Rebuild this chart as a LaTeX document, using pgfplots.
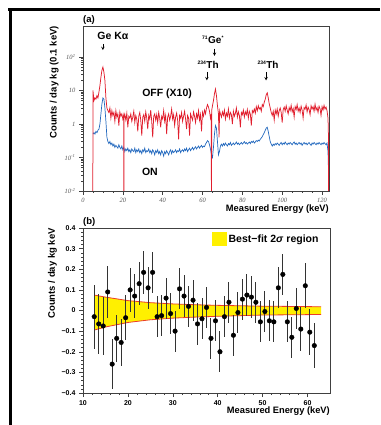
\documentclass[border=0pt]{standalone}
\usepackage{pgfplots}
\pgfplotsset{compat=1.18}
\usepackage{fontspec}
\setmainfont{Liberation Sans}
\newfontfamily\serif{Liberation Serif}
\definecolor{offred}{RGB}{225,30,45}
\definecolor{onblue}{RGB}{35,105,190}
\definecolor{bandyellow}{RGB}{255,240,0}
\definecolor{bandred}{RGB}{235,60,40}

\begin{document}
\begin{tikzpicture}
\path[use as bounding box] (0pt,0pt) rectangle (380pt,425pt);
\draw[line width=3pt] (8pt,415pt) -- (380pt,415pt);
\draw[line width=3pt] (10pt,416.5pt) -- (10pt,0pt);

%================ panel (a)
\begin{axis}[
  at={(83pt,234pt)}, anchor=south west, scale only axis,
  width=246pt, height=165pt,
  ymode=log, xmin=0, xmax=123.5, ymin=0.01, ymax=840,
  axis line style={black!75, line width=0.6pt},
  tick pos=left, tick align=outside,
  major tick length=4pt, minor tick length=2pt,
  tick style={black!75, line width=0.5pt},
  xtick={0,20,...,120}, minor x tick num=3,
  xticklabels={0,20,40,60,80,100,120},
  ytick={0.01,0.1,1,10,100},
  yticklabels={10\textsuperscript{-2},10\textsuperscript{-1},1,10,10\textsuperscript{2}},
  ticklabel style={font=\serif\itshape\fontsize{6.5}{6.5}\selectfont, text=black!65},
  ylabel={Counts / day kg (0.1 keV)},
  ylabel style={font=\bfseries\fontsize{9.5}{10}\selectfont, at={(rel axis cs:-0.098,1)}, anchor=south east, inner sep=0pt},
  xlabel={Measured Energy (keV)},
  xlabel style={font=\bfseries\fontsize{9.3}{10}\selectfont, at={(rel axis cs:1,-0.08)}, anchor=north east, inner sep=0pt},
  clip=true,
]
\addplot[onblue, line width=0.7pt] coordinates {
(5,0.5)(5.5,0.55)(6,0.5)(6.5,0.6)(7,0.55)(7.5,0.65)(8,0.7)(8.5,1)(9,2)(9.5,4)(10,6)(10.5,5.5)(11,3)(11.5,1.2)(12,0.4)(12.5,0.3)(13,0.26)(13.5,0.3)(14,0.24)(14.5,0.27)
(15,0.22)(15.5,0.25)(16,0.2)(16.5,0.23)(17,0.21)(17.5,0.19)(18,0.24)(18.5,0.2)(19,0.18)(19.5,0.22)(20,0.17)(20.5,0.2)(21,0.15)(21.5,0.18)(22,0.16)(22.5,0.19)(23,0.15)(23.5,0.17)(24,0.14)(24.5,0.18)
(25,0.16)(25.5,0.15)(26,0.19)(26.5,0.14)(27,0.17)(27.5,0.15)(28,0.18)(28.5,0.14)(29,0.16)(29.5,0.13)(30,0.17)(30.5,0.15)(31,0.19)(31.5,0.14)(32,0.16)(32.5,0.15)(33,0.18)(33.5,0.14)(34,0.16)(34.5,0.13)
(35,0.17)(35.5,0.15)(36,0.12)(36.5,0.16)(37,0.14)(37.5,0.17)(38,0.13)(38.5,0.15)(39,0.12)(39.5,0.16)(40,0.14)(40.5,0.11)(41,0.15)(41.5,0.13)(42,0.16)(42.5,0.14)(43,0.12)(43.5,0.15)(44,0.17)(44.5,0.13)
(45,0.16)(45.5,0.14)(46,0.15)(46.5,0.17)(47,0.14)(47.5,0.16)(48,0.15)(48.5,0.18)(49,0.14)(49.5,0.16)(50,0.17)(50.5,0.15)(51,0.18)(51.5,0.16)(52,0.19)(52.5,0.15)(53,0.17)(53.5,0.19)(54,0.16)(54.5,0.18)
(55,0.2)(55.5,0.17)(56,0.19)(56.5,0.21)(57,0.18)(57.5,0.2)(58,0.22)(58.5,0.19)(59,0.21)(59.5,0.23)(60,0.2)(60.5,0.22)(61,0.21)(61.5,0.25)(62,0.28)(62.5,0.32)(63,0.3)(63.5,0.24)(64,0.18)(64.5,0.12)
(65,0.1)(65.5,0.2)(66,0.5)(66.5,0.9)(67,0.75)(67.5,0.3)(68,0.12)(68.5,0.15)(69,0.22)(69.5,0.25)(70,0.22)(70.5,0.26)(71,0.23)(71.5,0.27)(72,0.24)(72.5,0.22)(73,0.26)(73.5,0.24)(74,0.28)(74.5,0.23)
(75,0.25)(75.5,0.27)(76,0.24)(76.5,0.26)(77,0.29)(77.5,0.25)(78,0.27)(78.5,0.24)(79,0.26)(79.5,0.28)(80,0.25)(80.5,0.27)(81,0.3)(81.5,0.26)(82,0.28)(82.5,0.25)(83,0.27)(83.5,0.29)(84,0.26)(84.5,0.3)
(85,0.28)(85.5,0.31)(86,0.27)(86.5,0.29)(87,0.32)(87.5,0.3)(88,0.33)(88.5,0.31)(89,0.35)(89.5,0.38)(90,0.42)(90.5,0.48)(91,0.55)(91.5,0.65)(92,0.75)(92.5,0.8)(93,0.6)(93.5,0.42)(94,0.3)(94.5,0.25)
(95,0.22)(95.5,0.25)(96,0.23)(96.5,0.26)(97,0.24)(97.5,0.27)(98,0.25)(98.5,0.23)(99,0.26)(99.5,0.28)(100,0.24)(100.5,0.27)(101,0.25)(101.5,0.29)(102,0.26)(102.5,0.24)(103,0.27)(103.5,0.25)(104,0.28)(104.5,0.26)
(105,0.24)(105.5,0.27)(106,0.29)(106.5,0.25)(107,0.27)(107.5,0.24)(108,0.26)(108.5,0.28)(109,0.25)(109.5,0.27)(110,0.23)(110.5,0.26)(111,0.28)(111.5,0.25)(112,0.27)(112.5,0.24)(113,0.26)(113.5,0.28)(114,0.25)(114.5,0.23)
(115,0.27)(115.5,0.25)(116,0.28)(116.5,0.26)(117,0.24)(117.5,0.27)(118,0.25)(118.5,0.28)(119,0.26)(119.5,0.24)(120,0.27)(120.5,0.25)(121,0.28)(121.5,0.26)(122,0.24)(122.5,0.27)(123,0.15)(123.2,0.05)(123.3,0.0001)
};
\addplot[offred, line width=0.75pt] coordinates {
(4.9,0.0001)(5,10)(5.5,5)(6,6)(6.5,5.5)(7,7)(7.5,6)(8,9)(8.5,14)(9,25)(9.5,40)(10,50)(10.5,35)(11,20)(11.5,6)(12,3)(12.5,2.5)(13,2.2)(13.5,3)(14,1.5)(14.5,2.5)
(15,1.8)(15.5,2.2)(16,1.2)(16.5,2.5)(17,1.6)(17.5,2)(18,0.9)(18.5,2.3)(19,1.7)(19.5,2)(20,1.4)(20.4,1.8)(20.5,0.0001)(20.6,1.5)(21,1.9)(21.5,1.3)(22,2.1)(22.5,0.8)(23,1.7)(23.5,1.5)(24,2)(24.5,1.2)
(25,1.6)(25.5,2.4)(26,1.1)(26.5,1.8)(27,1.4)(27.5,0.6)(28,1.7)(28.5,2.2)(29,1.3)(29.5,0.45)(30,1.6)(30.5,1.9)(31,1.2)(31.5,2.3)(32,1.5)(32.5,0.7)(33,1.8)(33.5,1.4)(34,2.6)(34.5,1.2)
(35,0.4)(35.5,1.7)(36,2)(36.5,1.3)(37,1.9)(37.5,1.1)(38,2.2)(38.5,1.5)(39,0.8)(39.5,1.7)(40,1.4)(40.5,2.5)(41,1.2)(41.5,1.8)(42,0.5)(42.5,1.6)(43,2)(43.5,1.3)(44,1.7)(44.5,2.8)
(45,1.4)(45.5,1.9)(46,0.9)(46.5,1.6)(47,2.1)(47.5,1.3)(48,0.35)(48.5,1.8)(49,1.5)(49.5,2.2)(50,1.2)(50.5,1.7)(51,2.4)(51.5,1.4)(52,0.7)(52.5,1.8)(53,1.5)(53.5,0.45)(54,2)(54.5,1.6)
(55,1.3)(55.5,2.3)(56,1.7)(56.5,1.1)(57,2)(57.5,1.5)(58,2.5)(58.5,1.3)(59,1.9)(59.5,0.6)(60,2.2)(60.5,1.7)(61,2.6)(61.5,2)(62,3)(62.5,3.8)(63,3.2)(63.5,2.4)(64,1.5)(64.4,2)(64.5,0.0001)(64.6,2.5)
(65,3.5)(65.5,5)(66,8)(66.5,11)(67,7)(67.5,3.5)(68,2)(68.3,0.4)(68.6,2.5)(69,2)(69.5,1.6)(70,2.3)(70.5,1.8)(71,2.6)(71.5,1.4)(72,2.1)(72.5,1.7)(73,2.8)(73.5,1.5)(74,2.2)(74.5,1.9)
(75,1)(75.5,2.4)(76,1.7)(76.5,2.1)(77,3)(77.5,1.6)(78,2.3)(78.5,1.8)(79,0.8)(79.5,2.2)(80,1.9)(80.5,2.6)(81,1.6)(81.5,2.3)(82,1.9)(82.5,2.7)(83,1.5)(83.5,2.4)(84,2)(84.5,0.9)
(85,2.5)(85.5,2.2)(86,2.8)(86.5,2.1)(87,3.3)(87.5,2.5)(88,3.5)(88.5,2.8)(89,3.1)(89.5,2.4)(90,3.8)(90.5,3.3)(91,4.5)(91.5,5.5)(92,7.5)(92.5,8.5)(93,6)(93.5,4)(94,3)(94.5,2.2)
(95,1.8)(95.5,2.4)(96,1.3)(96.5,2.6)(97,2)(97.5,2.8)(98,1.7)(98.5,2.5)(99,3)(99.5,2.2)(100,1.1)(100.5,2.7)(101,3.2)(101.5,2.4)(102,3.5)(102.5,2.6)(103,2)(103.5,3.1)(104,2.5)(104.5,3.6)
(105,2.3)(105.5,2.9)(106,1.6)(106.5,3.3)(107,2.7)(107.5,3.8)(108,2.4)(108.5,3)(109,2.2)(109.5,3.4)(110,2.6)(110.5,1.5)(111,3.1)(111.5,2.8)(112,3.7)(112.5,2.3)(113,3.2)(113.5,2.7)(114,1.9)(114.5,3.5)
(115,2.8)(115.5,3.3)(116,2.4)(116.5,3.9)(117,2.6)(117.5,3.1)(118,2.2)(118.5,3.4)(119,2.9)(119.5,1.8)(120,3.3)(120.5,2.6)(121,3.6)(121.5,2.8)(122,3.2)(122.5,2.5)(123,1.5)(123.2,0.5)(123.3,0.0001)
};
\node[font=\bfseries\fontsize{10.5}{11}\selectfont] at (axis cs:15,424) {Ge Kα};
\draw[-stealth, line width=0.5pt] (axis cs:10,245) -- (axis cs:10,160);
\node[font=\bfseries\fontsize{10}{11}\selectfont] at (axis cs:65.3,323) {\textsuperscript{\tiny 71}Ge\textsuperscript{\tiny *}};
\draw[-stealth, line width=0.5pt] (axis cs:66,178) -- (axis cs:66,108);
\node[font=\bfseries\fontsize{10}{11}\selectfont] at (axis cs:62.8,58) {\textsuperscript{\tiny 234}Th};
\draw[-stealth, line width=0.5pt] (axis cs:62.2,36) -- (axis cs:62.2,20);
\node[font=\bfseries\fontsize{10}{11}\selectfont] at (axis cs:92.9,58) {\textsuperscript{\tiny 234}Th};
\draw[-stealth, line width=0.5pt] (axis cs:91.9,36) -- (axis cs:91.9,20);
\node[font=\bfseries\fontsize{10.5}{11}\selectfont] at (axis cs:42.2,7.9) {OFF (X10)};
\node[font=\bfseries\fontsize{10.5}{11}\selectfont] at (axis cs:33.6,0.037) {ON};
\end{axis}
\node[font=\bfseries\fontsize{9.5}{10}\selectfont, anchor=south west, inner sep=0pt] at (83pt,400pt) {(a)};

%================ panel (b)
\begin{axis}[
  at={(83pt,32pt)}, anchor=south west, scale only axis,
  width=247pt, height=165pt,
  xmin=10, xmax=65, ymin=-0.4, ymax=0.4,
  axis line style={black!75, line width=0.6pt},
  tick pos=left, tick align=outside,
  major tick length=4pt, minor tick length=2pt,
  tick style={black!75, line width=0.5pt},
  xtick={10,20,...,60}, minor x tick num=4,
  ytick={-0.4,-0.3,-0.2,-0.1,0,0.1,0.2,0.3,0.4}, minor y tick num=4,
  yticklabels={−0.4,−0.3,−0.2,−0.1,0,0.1,0.2,0.3,0.4},
  xticklabels={10,20,30,40,50,60},
  ticklabel style={font=\bfseries\fontsize{7}{7}\selectfont},
  ylabel={Counts / day kg keV},
  ylabel style={font=\bfseries\fontsize{9.5}{10}\selectfont, at={(rel axis cs:-0.105,1)}, anchor=south east, inner sep=0pt},
  xlabel={Measured Energy (keV)},
  xlabel style={font=\bfseries\fontsize{9.3}{10}\selectfont, at={(rel axis cs:1,-0.085)}, anchor=north east, inner sep=0pt},
  legend style={draw=none, fill=none, at={(rel axis cs:0.52,0.975)}, anchor=north west,
    font=\bfseries\fontsize{10.5}{11}\selectfont, inner sep=0pt},
  legend cell align=left,
]
\addplot[fill=bandyellow, draw=none,
  legend image code/.code={\fill[bandyellow] (0pt,-7pt) rectangle (15pt,7pt);}]
 coordinates {(12.5,0.075)(15,0.065)(20,0.048)(25,0.038)(30,0.032)(35,0.028)(40,0.025)(45,0.023)(50,0.021)(55,0.02)(60,0.019)(63,0.018)
 (63,-0.019)(60,-0.02)(55,-0.021)(50,-0.022)(45,-0.025)(40,-0.028)(35,-0.032)(30,-0.037)(25,-0.045)(20,-0.058)(15,-0.08)(12.5,-0.095)} -- cycle;
\addlegendentry{Best−fit 2\textit{σ} region}
\addplot[bandred, line width=0.8pt, forget plot] coordinates {(12.5,0.075)(15,0.065)(20,0.048)(25,0.038)(30,0.032)(35,0.028)(40,0.025)(45,0.023)(50,0.021)(55,0.02)(60,0.019)(63,0.018)};
\addplot[bandred, line width=0.8pt, forget plot] coordinates {(12.5,-0.095)(15,-0.08)(20,-0.058)(25,-0.045)(30,-0.037)(35,-0.032)(40,-0.028)(45,-0.025)(50,-0.022)(55,-0.021)(60,-0.02)(63,-0.019)};
\addplot[only marks, mark=*, mark size=2.3pt, black, forget plot,
  error bars/.cd, y dir=both, y explicit, error mark=none,
  error bar style={line width=1pt, black!80}]
 table[x=x, y=y, y error=e] {
x y e
12.5 -0.03 0.155
13.5 -0.065 0.145
14.5 -0.075 0.14
15.5 0.09 0.125
16.5 -0.26 0.12
17.5 -0.135 0.115
18.5 -0.155 0.115
19.5 -0.035 0.11
20.5 0.1 0.107
21.5 0.07 0.105
22.5 0.13 0.105
23.5 0.185 0.103
24.5 0.11 0.103
25.5 0.185 0.1
26.5 -0.03 0.1
27.5 -0.025 0.1
28.5 0.06 0.1
29.5 -0.015 0.1
30.5 -0.1 0.1
31.5 0.105 0.1
32.5 0.07 0.1
33.5 0.02 0.1
34.5 0.05 0.1
35.5 -0.065 0.1
36.5 -0.04 0.1
37.5 0.015 0.1
38.5 -0.135 0.1
39.5 -0.05 0.1
40.5 -0.2 0.1
41.5 -0.03 0.1
42.5 0.04 0.1
43.5 -0.12 0.1
44.5 -0.01 0.1
45.5 0.055 0.1
46.5 0.075 0.1
47.5 0.065 0.1
48.5 0.04 0.1
49.5 -0.055 0.1
50.5 -0.005 0.1
51.5 -0.05 0.1
52.5 -0.055 0.1
53.5 0.11 0.1
54.5 0.175 0.1
55.5 -0.055 0.1
56.5 -0.13 0.1
57.5 0.01 0.1
58.5 -0.09 0.105
59.5 0.12 0.11
60.5 -0.105 0.11
61.5 -0.17 0.11
};
\end{axis}
\node[font=\bfseries\fontsize{9.5}{10}\selectfont, anchor=south west, inner sep=0pt] at (83pt,198pt) {(b)};
\end{tikzpicture}
\end{document}
